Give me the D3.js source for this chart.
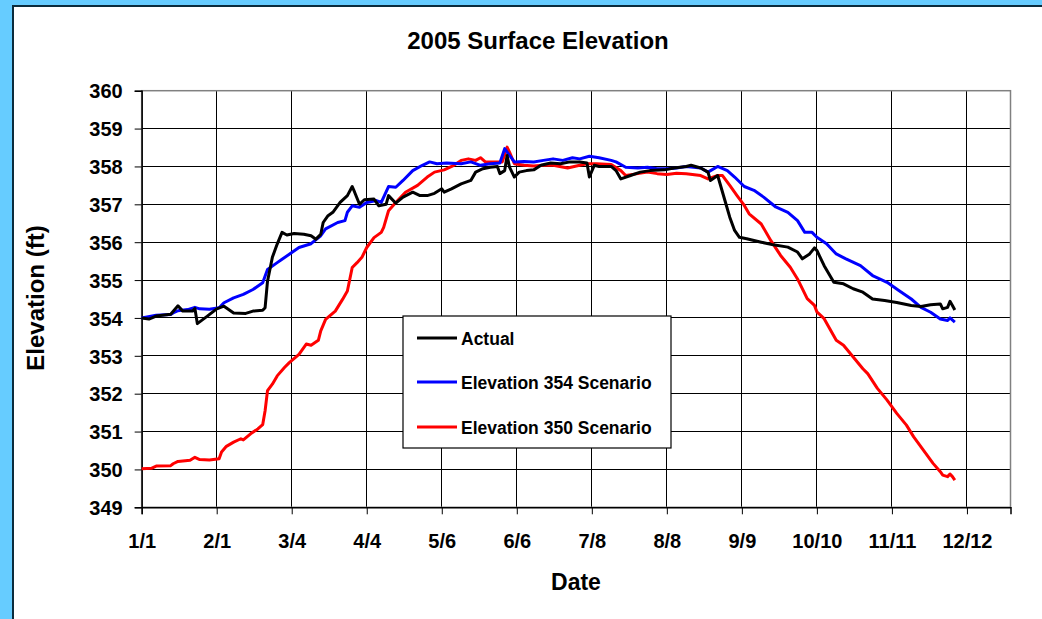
<!DOCTYPE html>
<html>
<head>
<meta charset="utf-8">
<script src="https://cdn.jsdelivr.net/npm/d3@7/dist/d3.min.js"></script>
<style>
  html, body { margin: 0; padding: 0; background: #66CCFF; }
  svg { display: block; }
  text { font-family: "Liberation Sans", Arial, sans-serif; font-weight: bold; fill: #000; }
</style>
</head>
<body>
<svg id="chart" width="1042" height="619"></svg>
<script>
// ---- Data (day index from 1/1, elevation ft) ----
const tickLabels = ["1/1","2/1","3/4","4/4","5/6","6/6","7/8","8/8","9/9","10/10","11/11","12/12"];
const tickDays   = [0,31,62,93,124,155,186,217,248,279,310,341];
const yTicks     = [349,350,351,352,353,354,355,356,357,358,359,360];

const actualDays = [0,3,6,12,15,17,21,22,23,27,31,34,38,43,46,50,51,52,54,56,58,60,63,67,70,72,74,75,77,79,82,85,87,88,90,92,96,98,101,102,105,108,112,115,118,121,124,125,128,132,136,138,141,144,147,148,150,151,152,154,156,159,162,165,169,173,177,181,184,185,187,189,194,196,198,202,206,210,216,220,225,227,231,234,235,238,241,243,245,247,250,256,261,267,271,273,276,278,279,282,286,290,294,298,302,307,312,318,322,326,330,331,333,334,335,336];
const actualVals = [354.0,353.97,354.05,354.1,354.32,354.18,354.18,354.25,353.85,354.04,354.24,354.31,354.13,354.12,354.18,354.2,354.27,354.97,355.6,355.95,356.26,356.19,356.23,356.21,356.17,356.08,356.21,356.52,356.7,356.79,357.05,357.23,357.47,357.32,357.0,357.12,357.14,356.96,357.0,357.23,357.03,357.19,357.32,357.23,357.23,357.29,357.41,357.32,357.41,357.54,357.63,357.85,357.94,357.98,358.0,357.81,357.89,358.29,357.98,357.72,357.85,357.89,357.91,358.03,358.09,358.07,358.12,358.12,358.09,357.72,358.03,358.0,358.0,357.89,357.67,357.76,357.85,357.89,357.91,357.96,358.0,358.03,357.96,357.85,357.63,357.76,357.1,356.66,356.31,356.13,356.09,356.0,355.93,355.87,355.74,355.56,355.69,355.85,355.78,355.38,354.94,354.9,354.77,354.68,354.5,354.46,354.41,354.33,354.3,354.35,354.37,354.24,354.28,354.44,354.33,354.21];

const s354Days = [0,6,12,13,15,19,22,24,28,32,34,38,42,46,50,52,56,58,61,65,70,74,76,81,84,85,87,90,93,97,99,102,105,108,112,116,119,122,126,132,136,140,144,148,150,152,154,158,162,166,170,174,178,181,185,189,194,196,200,205,209,213,217,221,225,231,234,238,242,245,249,253,257,262,267,271,274,277,279,283,287,291,297,302,308,313,318,322,326,330,333,334,336];
const s354Vals = [354.0,354.07,354.09,354.13,354.19,354.22,354.28,354.24,354.23,354.27,354.4,354.53,354.62,354.75,354.93,355.28,355.46,355.55,355.68,355.86,355.96,356.17,356.35,356.52,356.57,356.79,356.96,356.92,357.05,357.1,357.05,357.47,357.45,357.63,357.89,358.03,358.12,358.07,358.09,358.07,358.12,358.03,358.07,358.09,358.47,358.29,358.12,358.13,358.12,358.16,358.2,358.16,358.23,358.2,358.27,358.23,358.16,358.12,357.98,357.96,357.98,357.94,357.94,357.96,358.0,357.96,357.85,358.0,357.89,357.72,357.47,357.37,357.19,356.93,356.79,356.57,356.26,356.26,356.13,355.96,355.69,355.56,355.38,355.12,354.94,354.72,354.5,354.28,354.15,353.97,353.93,354.0,353.89];

const s350Days = [0,4,6,12,13,15,20,22,24,28,32,33,35,38,41,42,45,48,50,51,52,54,56,59,61,65,68,70,73,74,76,80,83,85,87,89,91,93,96,99,100,102,105,109,114,118,121,125,129,132,135,138,140,142,145,149,151,152,154,158,162,166,170,176,181,184,188,194,198,200,205,209,213,217,221,225,231,234,238,240,243,246,249,251,256,260,264,268,271,275,278,279,282,287,290,294,298,300,304,308,312,316,319,323,327,330,331,333,334,335,336];
const s350Vals = [350.02,350.03,350.09,350.1,350.15,350.21,350.24,350.32,350.26,350.25,350.28,350.46,350.61,350.72,350.81,350.78,350.94,351.07,351.18,351.55,352.08,352.25,352.47,352.69,352.82,353.04,353.31,353.28,353.41,353.66,353.96,354.18,354.49,354.71,355.33,355.46,355.6,355.86,356.12,356.26,356.39,356.83,357.05,357.32,357.5,357.72,357.85,357.91,358.03,358.16,358.2,358.16,358.23,358.12,358.12,358.12,358.51,358.38,358.07,358.03,358.01,358.03,358.03,357.96,358.03,358.07,358.07,358.05,357.89,357.76,357.81,357.85,357.81,357.79,357.82,357.81,357.76,357.67,357.76,357.76,357.5,357.23,356.97,356.75,356.48,356.04,355.65,355.34,355.03,354.51,354.33,354.16,353.98,353.41,353.28,352.97,352.66,352.53,352.14,351.83,351.48,351.17,350.86,350.51,350.16,349.94,349.85,349.81,349.88,349.81,349.72];

const seriesNames  = ["Actual","Elevation 354 Scenario","Elevation 350 Scenario"];
const seriesColors = ["#000000","#0000FF","#FF0000"];

// ---- Drawing ----
const svg = d3.select("#chart");
// white chart area with dark border on top/left
svg.append("rect").attr("x",13).attr("y",6).attr("width",1042).attr("height",640)
  .attr("fill","#fff").attr("stroke","#0b2c3c").attr("stroke-width",2);

const L = 141.67, R = 1010.5, T = 90.7, B = 507.3;
const x = d3.scaleLinear().domain([0,359]).range([L,R]);
const y = d3.scaleLinear().domain([349,360]).range([B,T]);

// gridlines
const g = svg.append("g");
g.selectAll("line.h").data(yTicks).join("line")
  .attr("x1",L).attr("x2",R).attr("y1",d=>y(d)).attr("y2",d=>y(d))
  .attr("stroke","#000").attr("stroke-width",1).attr("shape-rendering","crispEdges");
g.selectAll("line.v").data(tickDays.slice(1)).join("line")
  .attr("x1",d=>x(d)).attr("x2",d=>x(d)).attr("y1",T).attr("y2",B)
  .attr("stroke","#000").attr("stroke-width",1).attr("shape-rendering","crispEdges");
// plot border
svg.append("rect").attr("x",L).attr("y",T).attr("width",R-L).attr("height",B-T)
  .attr("fill","none").attr("stroke","#808080").attr("stroke-width",1.5);

// axes
const yAxis = d3.axisLeft(y).tickValues(yTicks).tickSize(7).tickPadding(12).tickFormat(d3.format("d"));
const ya = svg.append("g").attr("transform",`translate(${L},0)`).call(yAxis);
ya.select(".domain").attr("stroke","#000").attr("stroke-width",1.5);
ya.selectAll(".tick line").attr("stroke","#000");
ya.selectAll("text").attr("font-size",20).attr("font-family","Liberation Sans, Arial, sans-serif").attr("font-weight","bold").attr("fill","#000").attr("dy","0.36em");

const xAxis = d3.axisBottom(x).tickValues(tickDays).tickSize(7).tickPadding(20).tickFormat((d,i)=>tickLabels[i]);
const xa = svg.append("g").attr("transform",`translate(0,${B})`).call(xAxis);
xa.select(".domain").attr("stroke","#000").attr("stroke-width",1.5);
xa.selectAll(".tick line").attr("stroke","#000");
xa.selectAll("text").attr("font-size",20).attr("font-family","Liberation Sans, Arial, sans-serif").attr("font-weight","bold").attr("fill","#000");

// lines
const line = d3.line().x(d=>x(d[0])).y(d=>y(d[1]));
const series = [
  d3.zip(actualDays, actualVals),
  d3.zip(s354Days, s354Vals),
  d3.zip(s350Days, s350Vals)
];
// draw order: red, blue, black? Keep blue/red beneath black where overlapping
[2,1,0].forEach(i=>{
  svg.append("path").datum(series[i]).attr("d",line).attr("fill","none")
    .attr("stroke",seriesColors[i]).attr("stroke-width",3).attr("stroke-linejoin","round");
});

// titles
svg.append("text").attr("x",538).attr("y",49).attr("text-anchor","middle").attr("font-size",24).text("2005 Surface Elevation");
svg.append("text").attr("x",576).attr("y",590).attr("text-anchor","middle").attr("font-size",23).text("Date");
svg.append("text").attr("transform","translate(44,298) rotate(-90)").attr("text-anchor","middle").attr("font-size",24).text("Elevation (ft)");

// legend
const lg = svg.append("g");
lg.append("rect").attr("x",403).attr("y",316).attr("width",268).attr("height",132)
  .attr("fill","#fff").attr("stroke","#000").attr("stroke-width",1.2);
const rowsY = [338,382,427];
seriesNames.forEach((n,i)=>{
  lg.append("line").attr("x1",417).attr("x2",457).attr("y1",rowsY[i]).attr("y2",rowsY[i])
    .attr("stroke",seriesColors[i]).attr("stroke-width",3);
  lg.append("text").attr("x",461).attr("y",rowsY[i]+6.5).attr("font-size",17.5).text(n);
});
</script>
</body>
</html>
